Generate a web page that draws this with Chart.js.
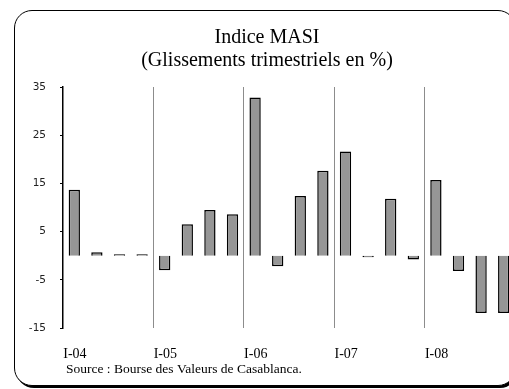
<!DOCTYPE html>
<html lang="fr">
<head>
    <meta charset="UTF-8">
    <title>Indice MASI</title>
    <script src="https://cdn.jsdelivr.net/npm/chart.js"></script>
    <style>
        html, body { margin: 0; padding: 0; background: #fff; overflow: hidden; }
        #wrap { position: relative; width: 509px; height: 389px; overflow: hidden; }
        #cadre {
            position: absolute; left: 14px; top: 10px; width: 500px; height: 374px;
            border: 1.5px solid #000; border-radius: 18px; box-shadow: 2px 2px 0 #000;
            background: #fff;
        }
        #grafica { position: absolute; left: 0; top: 0; }
    </style>
</head>
<body>
<div id="wrap">
    <div id="cadre"></div>
    <canvas id="grafica" width="530" height="389"></canvas>
</div>
<script>
    // Trimestres 2004-2008
    const trimestres = [
        'I-04', 'II-04', 'III-04', 'IV-04',
        'I-05', 'II-05', 'III-05', 'IV-05',
        'I-06', 'II-06', 'III-06', 'IV-06',
        'I-07', 'II-07', 'III-07', 'IV-07',
        'I-08', 'II-08', 'III-08', 'IV-08'
    ];
    // Glissements trimestriels du MASI (%)
    const glissements = [
        13.7, 0.7, 0.3, 0.3,
        -3.0, 6.5, 9.5, 8.6,
        32.8, -2.2, 12.4, 17.6,
        21.6, -0.3, 11.8, -0.8,
        15.7, -3.2, -11.9, -11.9
    ];
    const graduations = [35, 25, 15, 5, -5, -15];

    // Titre et source dessinés à la main (positions libres)
    const textesPlugin = {
        id: 'textes',
        afterDraw(chart) {
            const ctx = chart.ctx;
            ctx.save();
            ctx.fillStyle = '#000';
            ctx.textBaseline = 'middle';
            ctx.textAlign = 'center';
            ctx.font = '20px "Liberation Serif", serif';
            ctx.fillText('Indice MASI', 267, 38);
            ctx.fillText('(Glissements trimestriels en %)', 267, 61);
            ctx.textAlign = 'left';
            ctx.font = '13.5px "Liberation Serif", serif';
            ctx.fillText('Source : Bourse des Valeurs de Casablanca.', 66, 369);
            ctx.restore();
        }
    };

    new Chart(document.getElementById('grafica'), {
        type: 'bar',
        data: {
            labels: trimestres,
            datasets: [{
                data: glissements,
                backgroundColor: '#969696',
                borderColor: '#000',
                borderWidth: 1.5,
                barPercentage: 0.5,
                categoryPercentage: 1
            }]
        },
        options: {
            responsive: false,
            animation: false,
            layout: { padding: { left: 0, right: 15, top: 87, bottom: 0 } },
            plugins: {
                legend: { display: false },
                tooltip: { enabled: false },
                title: { display: false }
            },
            scales: {
                x: {
                    offset: true,
                    afterFit(scale) { scale.height = 61; },
                    border: { display: false },
                    grid: {
                        offset: true,
                        drawTicks: false,
                        color: ctx => (ctx.index % 4 === 0 && ctx.index > 0) ? '#8c8c8c' : 'rgba(0,0,0,0)',
                        lineWidth: 1
                    },
                    ticks: {
                        autoSkip: false,
                        maxRotation: 0,
                        align: 'start',
                        labelOffset: -11,
                        padding: 18,
                        color: '#000',
                        font: { family: '"Liberation Serif", serif', size: 14 },
                        callback: (v, i) => i % 4 === 0 ? trimestres[i] : ''
                    }
                },
                y: {
                    min: -15,
                    max: 35,
                    afterFit(scale) { scale.width = 63; },
                    afterBuildTicks(scale) { scale.ticks = graduations.map(v => ({ value: v })); },
                    border: { display: true, color: '#000', width: 1.5 },
                    grid: {
                        color: ctx => ctx.tick && ctx.tick.value === 0 ? '#000' : 'rgba(0,0,0,0)',
                        tickColor: '#000',
                        tickLength: 3,
                        lineWidth: 1
                    },
                    ticks: {
                        padding: 14,
                        color: '#222',
                        font: { family: '"DejaVu Sans", sans-serif', size: 10.5 }
                    }
                }
            }
        },
        plugins: [textesPlugin]
    });
</script>
</body>
</html>
